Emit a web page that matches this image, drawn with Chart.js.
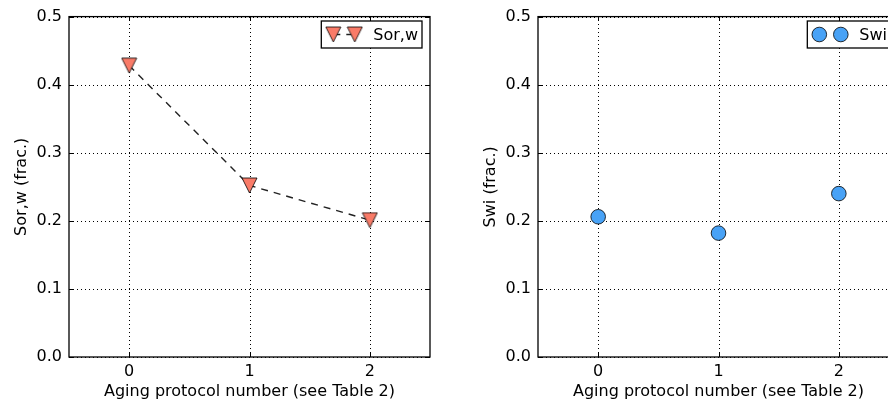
<!DOCTYPE html>
<html>
<head>
<meta charset="utf-8">
<script src="https://cdn.jsdelivr.net/npm/chart.js@4.4.1/dist/chart.umd.min.js"></script>
<style>
  html, body { margin: 0; padding: 0; background: #fff; overflow: hidden; }
  #wrap { position: relative; width: 888px; height: 404px; overflow: hidden; }
  .box { position: absolute; top: 0; width: 444px; height: 404px; }
</style>
</head>
<body>
<div id="wrap">
  <div class="box" style="left:0px"><canvas id="sorChart" width="444" height="404"></canvas></div>
  <div class="box" style="left:469px"><canvas id="swiChart" width="444" height="404"></canvas></div>
</div>
<script>
// ------------ DATA -------------
const protocols = [0, 1, 2];
const sorValues = [0.428, 0.252, 0.201];
const swiValues = [0.206, 0.182, 0.240];
const xTicks = [0, 1, 2];
const yTicks = [0.0, 0.1, 0.2, 0.3, 0.4, 0.5];

const FONT = "'DejaVu Sans', sans-serif";
const SALMON = "#f97b68";
const BLUE = "#48a2f6";

// matplotlib style "v" marker: bbox centred on the point
function makeTriangle(size, fill) {
    const c = document.createElement("canvas");
    c.width = size + 2;
    c.height = size + 2;
    const g = c.getContext("2d");
    g.beginPath();
    g.moveTo(1, 1);
    g.lineTo(size + 1, 1);
    g.lineTo(size / 2 + 1, size + 1);
    g.closePath();
    g.fillStyle = fill;
    g.fill();
    g.lineWidth = 0.8;
    g.strokeStyle = "#000";
    g.stroke();
    return c;
}
const triMarker = makeTriangle(15, SALMON);

// ================== GRID (dotted, under the data) ==================
const gridPlugin = {
    id: "dotGrid",
    beforeDatasetsDraw(chart) {
        const ctx = chart.ctx;
        const a = chart.chartArea;
        const xs = chart.scales.x, ys = chart.scales.y;
        ctx.save();
        ctx.strokeStyle = "#000";
        ctx.lineWidth = 1;
        ctx.setLineDash([1, 3]);
        ctx.beginPath();
        xTicks.forEach(v => {
            const px = Math.round(xs.getPixelForValue(v)) + 0.5;
            ctx.moveTo(px, a.bottom); ctx.lineTo(px, a.top);
        });
        yTicks.forEach(v => {
            const py = Math.round(ys.getPixelForValue(v)) + 0.5;
            ctx.moveTo(a.left, py); ctx.lineTo(a.right, py);
        });
        ctx.stroke();
        ctx.restore();
    }
};

// ================== FRAME / TICKS / LEGEND PLUGIN ==================
const framePlugin = {
    id: "frame",
    afterDraw(chart) {
        const ctx = chart.ctx;
        const a = chart.chartArea;
        const xs = chart.scales.x, ys = chart.scales.y;
        ctx.save();
        // inward tick marks on all four sides
        ctx.strokeStyle = "#000";
        ctx.lineWidth = 1;
        ctx.beginPath();
        xTicks.forEach(v => {
            const px = Math.round(xs.getPixelForValue(v)) + 0.5;
            ctx.moveTo(px, a.bottom); ctx.lineTo(px, a.bottom - 4);
            ctx.moveTo(px, a.top); ctx.lineTo(px, a.top + 4);
        });
        yTicks.forEach(v => {
            const py = Math.round(ys.getPixelForValue(v)) + 0.5;
            ctx.moveTo(a.left, py); ctx.lineTo(a.left + 4, py);
            ctx.moveTo(a.right, py); ctx.lineTo(a.right - 4, py);
        });
        ctx.stroke();
        // box
        ctx.lineWidth = 1.3;
        ctx.strokeRect(a.left, a.top, a.right - a.left, a.bottom - a.top);

        // legend (two markers, like numpoints=2)
        const ds = chart.data.datasets[0];
        ctx.font = "16px " + FONT;
        const tw = ctx.measureText(ds.label).width;
        const w = 52 + tw + 4;
        const bx = a.right - 8 - w, by = 21, bh = 27;
        ctx.fillStyle = "#fff";
        ctx.fillRect(bx, by, w, bh);
        ctx.lineWidth = 1.3;
        ctx.strokeStyle = "#000";
        ctx.strokeRect(bx, by, w, bh);
        const my = by + bh / 2;
        const m1 = bx + 12, m2 = bx + 33.5;
        if (ds.showLine !== false) {
            ctx.beginPath();
            ctx.setLineDash(ds.borderDash || []);
            ctx.strokeStyle = ds.borderColor;
            ctx.lineWidth = ds.borderWidth;
            ctx.moveTo(m1, my); ctx.lineTo(m2, my);
            ctx.stroke();
            ctx.setLineDash([]);
        }
        [m1, m2].forEach(mx => {
            if (ds.pointStyle instanceof HTMLCanvasElement) {
                const im = ds.pointStyle;
                ctx.drawImage(im, mx - im.width / 2, my - im.height / 2);
            } else {
                ctx.beginPath();
                ctx.arc(mx, my, ds.pointRadius, 0, Math.PI * 2);
                ctx.fillStyle = ds.pointBackgroundColor;
                ctx.fill();
                ctx.lineWidth = ds.pointBorderWidth;
                ctx.strokeStyle = "#000";
                ctx.stroke();
            }
        });
        ctx.fillStyle = "#000";
        ctx.textBaseline = "middle";
        ctx.textAlign = "left";
        ctx.fillText(ds.label, bx + 52, my + 1);
        ctx.restore();
    }
};

function buildOptions(yTitle) {
    return {
        responsive: false,
        animation: false,
        layout: { padding: { left: 12, top: 14, right: 14, bottom: 0 } },
        plugins: { legend: { display: false }, tooltip: { enabled: false } },
        scales: {
            x: {
                type: "linear",
                min: -0.5,
                max: 2.5,
                afterBuildTicks: s => { s.ticks = xTicks.map(v => ({ value: v })); },
                afterFit: s => { s.height = 47; },
                grid: { display: false, drawTicks: false },
                border: { display: false },
                ticks: {
                    color: "#000",
                    padding: 5,
                    font: { family: FONT, size: 16 },
                    callback: v => String(v)
                },
                title: {
                    display: true,
                    text: "Aging protocol number (see Table 2)",
                    color: "#000",
                    font: { family: FONT, size: 16 },
                    padding: { top: 0, bottom: 3 }
                }
            },
            y: {
                min: 0,
                max: 0.5,
                afterBuildTicks: s => { s.ticks = yTicks.map(v => ({ value: v })); },
                afterFit: s => { s.width = 57; },
                grid: { display: false, drawTicks: false },
                border: { display: false },
                ticks: {
                    color: "#000",
                    padding: 7,
                    font: { family: FONT, size: 16 },
                    callback: v => Number(v).toFixed(1)
                },
                title: {
                    display: true,
                    text: yTitle,
                    color: "#000",
                    font: { family: FONT, size: 16 },
                    padding: { top: 0, bottom: 0 }
                }
            }
        }
    };
}

const sorChart = new Chart(document.getElementById("sorChart"), {
    type: "line",
    data: {
        datasets: [{
            label: "Sor,w",
            data: protocols.map((p, i) => ({ x: p, y: sorValues[i] })),
            borderColor: "#222",
            borderWidth: 1.4,
            borderDash: [7, 6],
            pointStyle: triMarker,
            pointRadius: 8,
            fill: false,
            tension: 0
        }]
    },
    options: buildOptions("Sor,w (frac.)"),
    plugins: [gridPlugin, framePlugin]
});

const swiChart = new Chart(document.getElementById("swiChart"), {
    type: "line",
    data: {
        datasets: [{
            label: "Swi",
            data: protocols.map((p, i) => ({ x: p, y: swiValues[i] })),
            showLine: false,
            pointStyle: "circle",
            pointRadius: 7.3,
            pointBackgroundColor: BLUE,
            pointBorderColor: "#000",
            pointBorderWidth: 0.8
        }]
    },
    options: buildOptions("Swi (frac.)"),
    plugins: [gridPlugin, framePlugin]
});
</script>
</body>
</html>
